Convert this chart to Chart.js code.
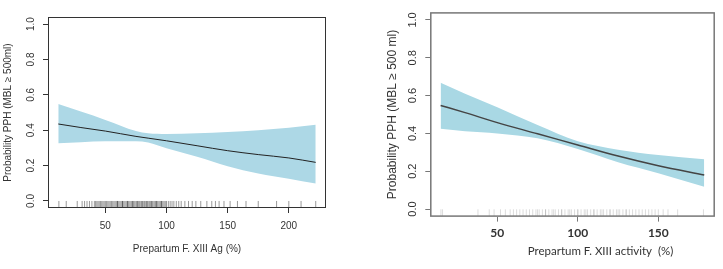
<!DOCTYPE html>
<html>
<head>
<meta charset="utf-8">
<script src="https://cdn.jsdelivr.net/npm/chart.js@4"></script>
<style>
  body { margin: 0; background: #fff; }
  canvas { position: absolute; top: 0; }
  #left { left: 0; }
  #right { left: 363px; }
</style>
</head>
<body>
<canvas id="left" width="360" height="269"></canvas>
<canvas id="right" width="360" height="269"></canvas>
<script>
// left panel: F. XIII antigen
var agX     = [11.5, 30, 50, 75, 85, 100, 125, 150, 175, 200, 222];
var agFit   = [0.435, 0.415, 0.395, 0.365, 0.355, 0.34, 0.312, 0.284, 0.262, 0.243, 0.218];
var agUpper = [0.548, 0.505, 0.458, 0.395, 0.382, 0.378, 0.382, 0.39, 0.40, 0.414, 0.431];
var agLower = [0.326, 0.332, 0.337, 0.337, 0.33, 0.298, 0.25, 0.196, 0.155, 0.125, 0.098];
var agRug = [12, 18, 27, 31, 33, 35, 37, 39, 41, 42, 43,
  44, 45, 46, 47, 48, 49, 50, 51, 52, 53, 54, 55, 56, 57, 58, 59, 60,
  61, 62, 63, 64, 65, 66, 67, 68, 69, 70, 71, 72, 73, 74, 75, 76, 77, 78, 79, 80,
  81, 82, 83, 84, 85, 86, 87, 88, 89, 90, 91, 92, 93, 94, 95, 96, 97, 98, 99, 100,
  60, 64, 68, 72, 76, 80, 84, 88, 92, 96,
  101.5, 103, 104.5, 106, 108, 110, 112, 115, 118, 121, 124, 128, 133, 137, 140,
  143, 147, 152, 158, 165, 175, 190, 200, 210, 222];

// right panel: F. XIII activity
var actX     = [14.8, 30, 50, 75, 100, 125, 150, 178.5];
var actFit   = [0.548, 0.51, 0.457, 0.398, 0.339, 0.28, 0.229, 0.18];
var actUpper = [0.668, 0.61, 0.538, 0.444, 0.358, 0.314, 0.286, 0.263];
var actLower = [0.425, 0.412, 0.40, 0.374, 0.317, 0.247, 0.189, 0.118];
var actRug = [15, 16, 38, 45, 48, 52, 55, 58,
  60, 62, 64, 66, 68, 70, 72, 74, 76, 78, 80, 82, 84, 86, 88, 90,
  92, 94, 96, 98, 100, 102, 104, 106, 108, 110, 112, 114, 116, 118, 120,
  122, 124, 126, 128, 130, 132, 134, 136, 138, 140, 142, 144, 146, 148, 150,
  75, 80, 85, 90, 95, 100, 105, 110, 115, 120, 125, 130,
  153, 156, 162, 178];

var yTicks = [0, 0.2, 0.4, 0.6, 0.8, 1.0];
var agTicks = [50, 100, 150, 200];
var actTicks = [50, 100, 150];

function pts(xs, ys) {
  return xs.map(function (x, i) { return { x: x, y: ys[i] }; });
}

// frame round the plot region, plus the x label (the right one sits off centre)
var boxPlugin = {
  id: "box",
  afterDraw: function (chart, args, opts) {
    var a = chart.chartArea, ctx = chart.ctx;
    ctx.save();
    ctx.strokeStyle = opts.color;
    ctx.lineWidth = opts.width;
    ctx.strokeRect(a.left + 0.5, a.top + 0.5, a.right - a.left - 1, a.bottom - a.top - 1);
    ctx.fillStyle = "#333";
    ctx.font = opts.titleFont;
    ctx.textAlign = "center";
    ctx.textBaseline = "middle";
    ctx.fillText(opts.title, (a.left + a.right) / 2 + opts.titleDx, opts.titleY);
    ctx.restore();
  }
};

function makeChart(id, s) {
  // dataset 0 is painted last, so the fitted line goes first
  return new Chart(document.getElementById(id), {
    type: "scatter",
    data: {
      datasets: [
        { data: pts(s.xs, s.fit), showLine: true, borderColor: s.lineColor, borderWidth: s.lineWidth,
          pointRadius: 0, cubicInterpolationMode: "monotone" },
        { data: pts(s.xs, s.upper), showLine: true, fill: "+1", backgroundColor: s.bandColor,
          borderWidth: 0, pointRadius: 0, cubicInterpolationMode: "monotone" },
        { data: pts(s.xs, s.lower), showLine: true, fill: false, borderWidth: 0,
          pointRadius: 0, cubicInterpolationMode: "monotone" },
        { data: s.rug.map(function (v) { return { x: v, y: -0.02 }; }), pointStyle: "line",
          rotation: 90, pointRadius: 3.5, borderWidth: 1, borderColor: s.rugColor }
      ]
    },
    options: {
      responsive: false,
      animation: false,
      devicePixelRatio: 1,
      layout: { padding: s.padding },
      plugins: { legend: { display: false }, tooltip: { enabled: false },
        box: { color: s.boxColor, width: s.boxWidth, title: s.xTitle, titleFont: s.xTitleFont,
          titleDx: s.xTitleDx, titleY: s.xTitleY } },
      scales: {
        x: {
          type: "linear", min: s.xMin, max: s.xMax,
          afterBuildTicks: function (sc) { sc.ticks = s.xTicks.map(function (v) { return { value: v }; }); },
          afterFit: function (sc) { sc.height = s.xHeight; },
          grid: { drawOnChartArea: false, tickLength: 5, tickColor: s.boxColor },
          border: { display: false },
          ticks: { font: s.xTickFont, color: "#333", padding: s.xTickPad, autoSkip: false, maxRotation: 0 }
        },
        y: {
          min: -0.04, max: 1.04,
          afterBuildTicks: function (sc) { sc.ticks = yTicks.map(function (v) { return { value: v }; }); },
          afterFit: function (sc) { sc.width = s.yWidth; },
          grid: { drawOnChartArea: false, tickLength: 5, tickColor: s.boxColor },
          border: { display: false },
          ticks: { font: s.yTickFont, color: "#333", padding: s.yTickPad, autoSkip: false,
            minRotation: 90, maxRotation: 90, crossAlign: "center",
            callback: function (v) { return v.toFixed(1); } },
          title: { display: true, text: s.yTitle, font: s.yTitleFont, color: "#333",
            padding: { top: s.yTitlePad, bottom: 0 } }
        }
      }
    },
    plugins: [boxPlugin]
  });
}

makeChart("left", {
  xs: agX, fit: agFit, upper: agUpper, lower: agLower, rug: agRug,
  xMin: 3.1, xMax: 230.4, xTicks: agTicks,
  padding: { left: 0, top: 17, right: 34, bottom: 0 }, yWidth: 48, xHeight: 61,
  lineColor: "#222", lineWidth: 1, rugColor: "rgba(0,0,0,0.4)", boxColor: "#333", boxWidth: 1,
  bandColor: "#ADD8E6",
  xTickFont: { family: "Liberation Sans", size: 10 }, xTickPad: 7,
  yTickFont: { family: "Liberation Sans", size: 10 }, yTickPad: 5,
  xTitle: "Prepartum F. XIII Ag (%)", xTitleFont: "10px 'Liberation Sans'", xTitleDx: 0, xTitleY: 249,
  yTitle: "Probability PPH (MBL \u2265 500ml)", yTitleFont: { family: "Liberation Sans", size: 10 }, yTitlePad: 2
});

makeChart("right", {
  xs: actX, fit: actFit, upper: actUpper, lower: actLower, rug: actRug,
  xMin: 8.4, xMax: 185, xTicks: actTicks,
  padding: { left: 0, top: 12.4, right: 8.3, bottom: 0 }, yWidth: 67.3, xHeight: 52.4,
  lineColor: "#444", lineWidth: 1.5, rugColor: "rgba(0,0,0,0.14)", boxColor: "#777", boxWidth: 1.5,
  bandColor: "#A9D8E4",
  xTickFont: { family: "Lato", size: 12, weight: "bold" }, xTickPad: 4,
  yTickFont: { family: "Liberation Sans", size: 11 }, yTickPad: 5,
  xTitle: "Prepartum F. XIII activity  (%)", xTitleFont: "11.5px Lato", xTitleDx: 28, xTitleY: 251.5,
  yTitle: "Probability PPH (MBL \u2265 500 ml)", yTitleFont: { family: "Liberation Sans", size: 12 }, yTitlePad: 22.5
});
</script>
</body>
</html>
